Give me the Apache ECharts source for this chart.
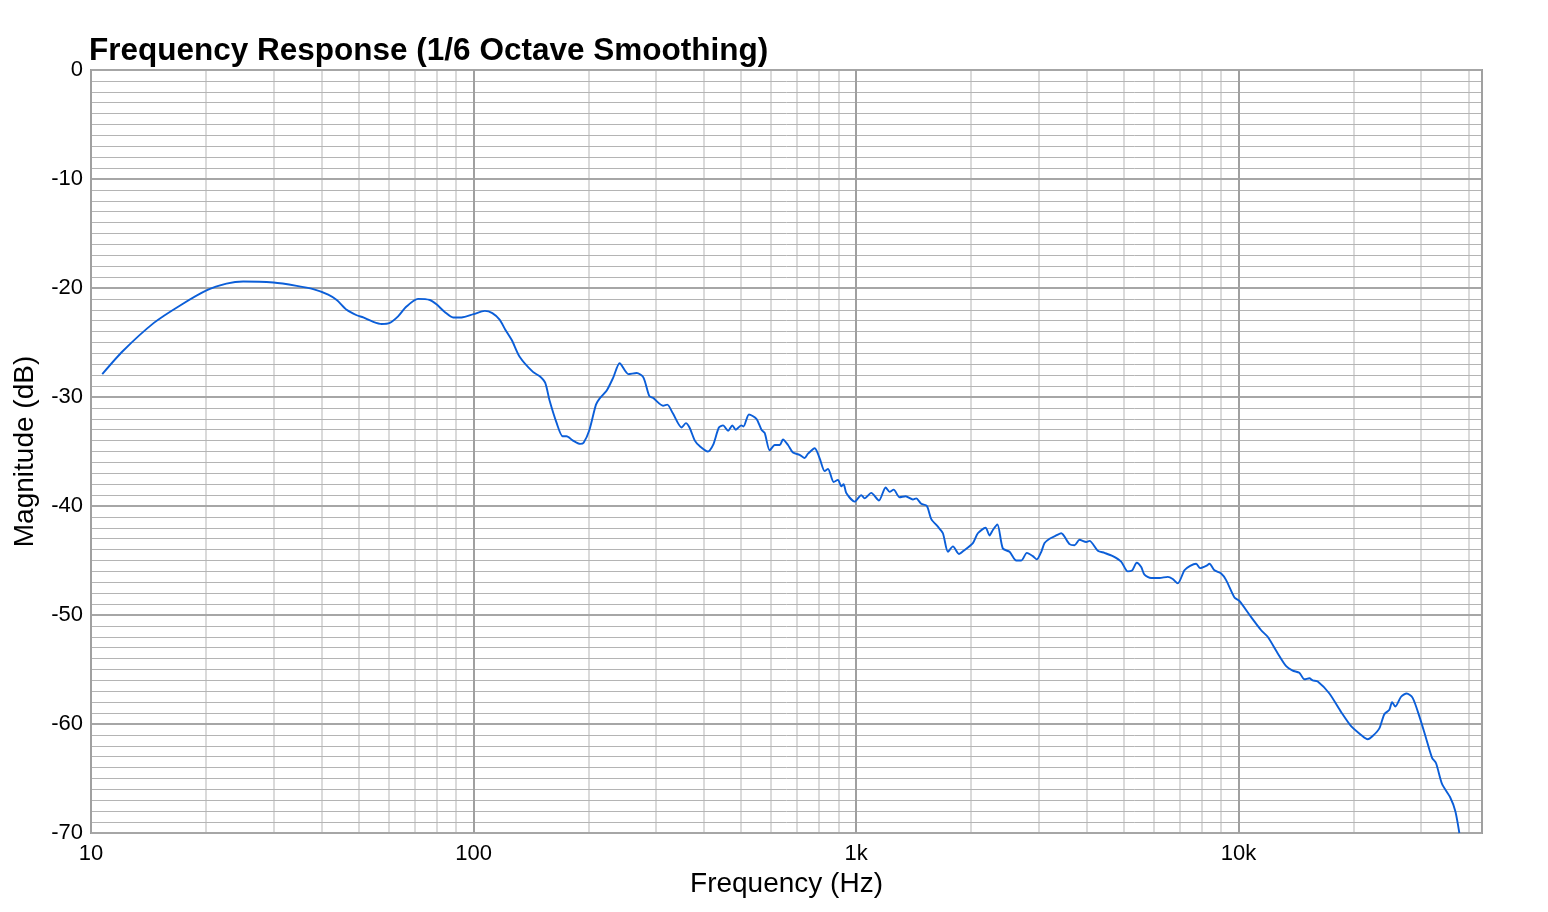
<!DOCTYPE html>
<html>
<head>
<meta charset="utf-8">
<title>Frequency Response</title>
<script src="https://cdn.jsdelivr.net/npm/echarts@6/dist/echarts.min.js"></script>
<style>
  html, body { margin: 0; padding: 0; background: #fff; }
  #chart { width: 1548px; height: 912px; }
</style>
</head>
<body>
<div id="chart"></div>
<script>
// frequency points (Hz)
const freqHz = [
  10.7, 12.1, 14.6, 17.1, 20.1, 22.6, 25.0, 30.0, 34.5, 38.1,
  41.7, 43.9, 46.6, 49.5, 51.5, 54.7, 57.5, 60.4, 63.5, 66.8,
  71.6, 76.9, 80.0, 84.1, 88.5, 93.0, 100, 107, 112, 117,
  121, 126, 132, 143, 149, 154, 158, 165, 171, 175,
  182, 190, 194, 201, 209, 214, 223, 232, 241, 254,
  267, 278, 288, 295, 313, 321, 332, 350, 359, 367,
  379, 390, 410, 423, 438, 449, 463, 475, 485, 501,
  508, 525, 549, 566, 577, 595, 613, 632, 644, 664,
  684, 712, 734, 749, 780, 803, 828, 845, 874, 897,
  915, 928, 943, 992, 1032, 1053, 1096, 1148, 1195, 1224,
  1254, 1300, 1348, 1408, 1437, 1481, 1532, 1573, 1637, 1687,
  1739, 1792, 1858, 1911, 2021, 2082, 2181, 2234, 2279, 2342,
  2420, 2520, 2624, 2704, 2797, 2899, 2970, 3050, 3111, 3206,
  3337, 3439, 3615, 3726, 3840, 3998, 4078, 4287, 4462, 4691,
  4933, 5134, 5272, 5420, 5566, 5677, 5910, 6213, 6531, 6731,
  6936, 7222, 7473, 7748, 7937, 8229, 8395, 8650, 9006, 9281,
  9757, 10050, 10790, 11460, 11920, 12600, 13320, 13850, 14420, 14870,
  15320, 15630, 16110, 17280, 18540, 19690, 20910, 21760, 22420, 23340,
  24050, 24790, 25200, 25700, 26600, 27510, 28520, 29700, 30920, 32060,
  32840, 34040, 35720, 36880, 37780
];

// magnitude (dB) at each frequency point
const magnitudeDb = [
  -27.9, -25.8, -23.2, -21.6, -20.2, -19.6, -19.4, -19.5, -19.8, -20.1,
  -20.6, -21.1, -22.0, -22.5, -22.7, -23.1, -23.3, -23.2, -22.6, -21.7,
  -21.0, -21.1, -21.5, -22.2, -22.7, -22.7, -22.4, -22.1, -22.3, -22.9,
  -23.8, -24.8, -26.3, -27.7, -28.1, -28.7, -30.3, -32.4, -33.6, -33.6,
  -34.0, -34.3, -34.2, -33.0, -30.7, -30.1, -29.4, -28.2, -26.9, -27.9,
  -27.8, -28.2, -29.9, -30.1, -30.8, -30.7, -31.5, -32.8, -32.4, -32.8,
  -34.0, -34.5, -35.0, -34.4, -32.8, -32.6, -33.1, -32.6, -33.0, -32.6,
  -32.7, -31.6, -32.0, -33.0, -33.3, -34.9, -34.4, -34.4, -33.9, -34.4,
  -35.1, -35.3, -35.6, -35.2, -34.7, -35.6, -36.8, -36.6, -37.8, -37.6,
  -38.2, -38.0, -38.8, -39.6, -39.0, -39.3, -38.8, -39.5, -38.3, -38.7,
  -38.5, -39.2, -39.1, -39.4, -39.3, -39.8, -40.0, -41.2, -41.9, -42.5,
  -44.2, -43.7, -44.4, -44.1, -43.4, -42.5, -42.0, -42.7, -42.2, -41.7,
  -43.9, -44.2, -45.0, -45.0, -44.3, -44.6, -44.9, -44.2, -43.4, -43.0,
  -42.7, -42.5, -43.5, -43.6, -43.1, -43.3, -43.2, -44.1, -44.3, -44.6,
  -45.1, -46.0, -45.9, -45.2, -45.6, -46.3, -46.6, -46.6, -46.5, -46.7,
  -47.1, -45.9, -45.5, -45.3, -45.7, -45.5, -45.3, -45.9, -46.2, -46.8,
  -48.4, -48.7, -50.2, -51.4, -52.0, -53.4, -54.7, -55.1, -55.3, -55.9,
  -55.8, -56.0, -56.1, -57.2, -58.9, -60.2, -61.0, -61.4, -61.1, -60.4,
  -59.1, -58.7, -58.0, -58.4, -57.5, -57.2, -57.6, -59.3, -61.3, -63.1,
  -63.6, -65.5, -66.7, -68.0, -70.0
];

// decades of the frequency axis and the 2..9 minor lines in each
const decades = [10, 100, 1000, 10000];
const minorSteps = [2, 3, 4, 5, 6, 7, 8, 9];

const FREQ_MIN = 10;
const FREQ_MAX = 43300;

const minorFreqs = [];
decades.forEach(function (d) {
  minorSteps.forEach(function (k) {
    if (d * k < FREQ_MAX) minorFreqs.push(d * k);
  });
});

const chart = echarts.init(document.getElementById("chart"));
const font = "'Liberation Sans', Arial, Helvetica, sans-serif";

const option = {
  animation: false,
  backgroundColor: "#ffffff",
  textStyle: { fontFamily: font },
  title: {
    text: "Frequency Response (1/6 Octave Smoothing)",
    left: 89,
    top: 35,
    padding: 0,
    textStyle: {
      fontFamily: font,
      fontSize: 31.5,
      fontWeight: "bold",
      color: "#000",
    },
  },
  grid: {
    left: 91,
    right: 66,
    top: 70,
    bottom: 79,
    show: true,
    borderColor: "#9c9c9c",
    borderWidth: 2,
    containLabel: false,
  },
  xAxis: {
    type: "log",
    logBase: 10,
    min: FREQ_MIN,
    max: FREQ_MAX,
    name: "Frequency (Hz)",
    nameLocation: "middle",
    nameGap: 28,
    nameTextStyle: { fontFamily: font, fontSize: 28, color: "#000" },
    axisLine: { show: false },
    axisTick: { show: false },
    axisLabel: {
      fontFamily: font,
      fontSize: 22,
      color: "#000",
      margin: 10,
      showMaxLabel: false,
      formatter: function (v) {
        return v >= 1000 ? v / 1000 + "k" : String(v);
      },
    },
    splitLine: { show: true, lineStyle: { color: "#a0a0a0", width: 2 } },
  },
  yAxis: {
    type: "value",
    min: -70,
    max: 0,
    interval: 10,
    name: "Magnitude (dB)",
    nameLocation: "middle",
    nameGap: 52,
    nameTextStyle: { fontFamily: font, fontSize: 28, color: "#000" },
    axisLine: { show: false },
    axisTick: { show: false },
    axisLabel: { fontFamily: font, fontSize: 22, color: "#000", margin: 8 },
    splitLine: { show: true, lineStyle: { color: "#a6a6a6", width: 2 } },
    minorTick: { show: false, splitNumber: 10 },
    minorSplitLine: { show: true, lineStyle: { color: "#b4b4b4", width: 1 } },
  },
  series: [
    {
      type: "line",
      data: freqHz.map(function (f, i) { return [f, magnitudeDb[i]]; }),
      showSymbol: false,
      symbol: "none",
      smooth: 0.25,
      lineStyle: { color: "#0b5ed8", width: 1.9 },
      z: 3,
      markLine: {
        silent: true,
        z: -1,
        symbol: "none",
        label: { show: false },
        emphasis: { disabled: true },
        lineStyle: { color: "#dadada", width: 2, type: "solid" },
        data: minorFreqs.map(function (f) { return { xAxis: f }; }),
      },
    },
  ],
};

chart.setOption(option);
</script>
</body>
</html>
